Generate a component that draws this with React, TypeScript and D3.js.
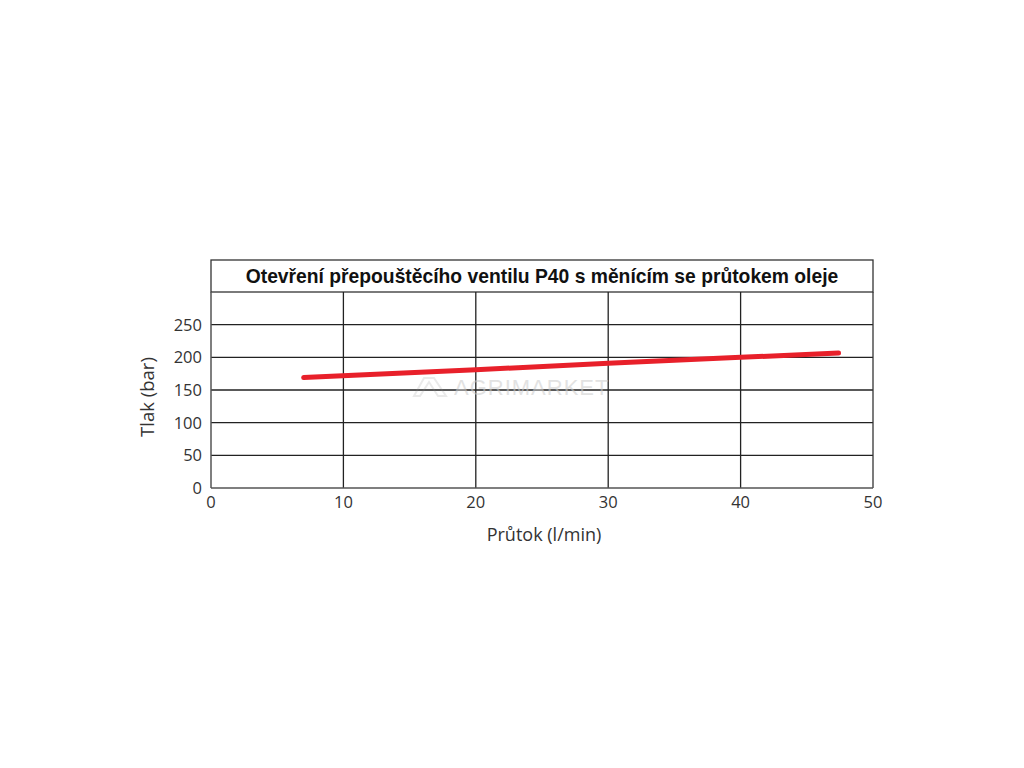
import React from "react";
import * as d3 from "d3";

const title = "Otevření přepouštěcího ventilu P40 s měnícím se průtokem oleje";
const xLabel = "Průtok (l/min)";
const yLabel = "Tlak (bar)";
const xTicks = [0, 10, 20, 30, 40, 50];
const yTicks = [0, 50, 100, 150, 200, 250];
const flow = [7, 20, 30, 40, 47.4];
const pressure = [169, 181, 191, 200, 206.5];

export default function App() {
  const left = 211, right = 873, top = 292, bottom = 488, titleTop = 260;
  const x = d3.scaleLinear().domain([0, 50]).range([left, right]);
  const y = d3.scaleLinear().domain([0, 300]).range([bottom, top]);
  const pts = flow.map((f, i) => [f, pressure[i]] as [number, number]);
  const line = d3.line<[number, number]>().x(d => x(d[0])).y(d => y(d[1]));
  const tickFont = "'Open Sans', 'Noto Sans', sans-serif";
  return (
    <svg width={1024} height={768} style={{ position: "absolute", left: 0, top: 0, background: "#fff" }}>
      <rect x={0} y={0} width={1024} height={768} fill="#fff" />
      {/* title box */}
      <rect x={left} y={titleTop} width={right - left} height={top - titleTop} fill="none" stroke="#333" strokeWidth={1.3} />
      <text x={542} y={283} textAnchor="middle" fontFamily="'Liberation Sans', Arial, sans-serif" fontWeight="bold" fontSize={19.3} fill="#111">{title}</text>
      {/* grid */}
      {yTicks.filter(t => t > 0).map(t => (
        <line key={"h" + t} x1={left} x2={right} y1={y(t)} y2={y(t)} stroke="#222" strokeWidth={1.3} />
      ))}
      {xTicks.filter(t => t > 0 && t < 50).map(t => (
        <line key={"v" + t} x1={x(t)} x2={x(t)} y1={top} y2={bottom} stroke="#222" strokeWidth={1.3} />
      ))}
      <line x1={left} x2={left} y1={top} y2={bottom} stroke="#555" strokeWidth={1.5} />
      <line x1={right} x2={right} y1={top} y2={bottom} stroke="#333" strokeWidth={1.3} />
      <line x1={left} x2={right} y1={bottom} y2={bottom} stroke="#555" strokeWidth={1.5} />
      {/* watermark */}
      <g opacity={0.18} stroke="#888" fill="none" strokeWidth={2}>
        <path d="M414,396 L424,378 L434,378 L446,396 L438,396 L429,382 L420,396 Z" />
      </g>
      <text x={454} y={395} fontFamily="'Liberation Sans', Arial, sans-serif" fontSize={22} fill="#ccc" opacity={0.55} letterSpacing={1}>AGRIMARKET</text>
      {/* data line */}
      <path d={line(pts) || ""} fill="none" stroke="#e8202a" strokeWidth={5} strokeLinecap="round" />
      {/* y ticks */}
      {yTicks.map(t => (
        <text key={"yt" + t} x={202} y={y(t) + 6} textAnchor="end" fontFamily={tickFont} fontSize={16.5} fill="#333">{t}</text>
      ))}
      {xTicks.map(t => (
        <text key={"xt" + t} x={x(t)} y={508} textAnchor="middle" fontFamily={tickFont} fontSize={16.5} fill="#333">{t}</text>
      ))}
      <text x={544} y={541} textAnchor="middle" fontFamily={tickFont} fontSize={18} fill="#333">{xLabel}</text>
      <text transform={`translate(154,397) rotate(-90)`} textAnchor="middle" fontFamily={tickFont} fontSize={18.5} fill="#333">{yLabel}</text>
    </svg>
  );
}
